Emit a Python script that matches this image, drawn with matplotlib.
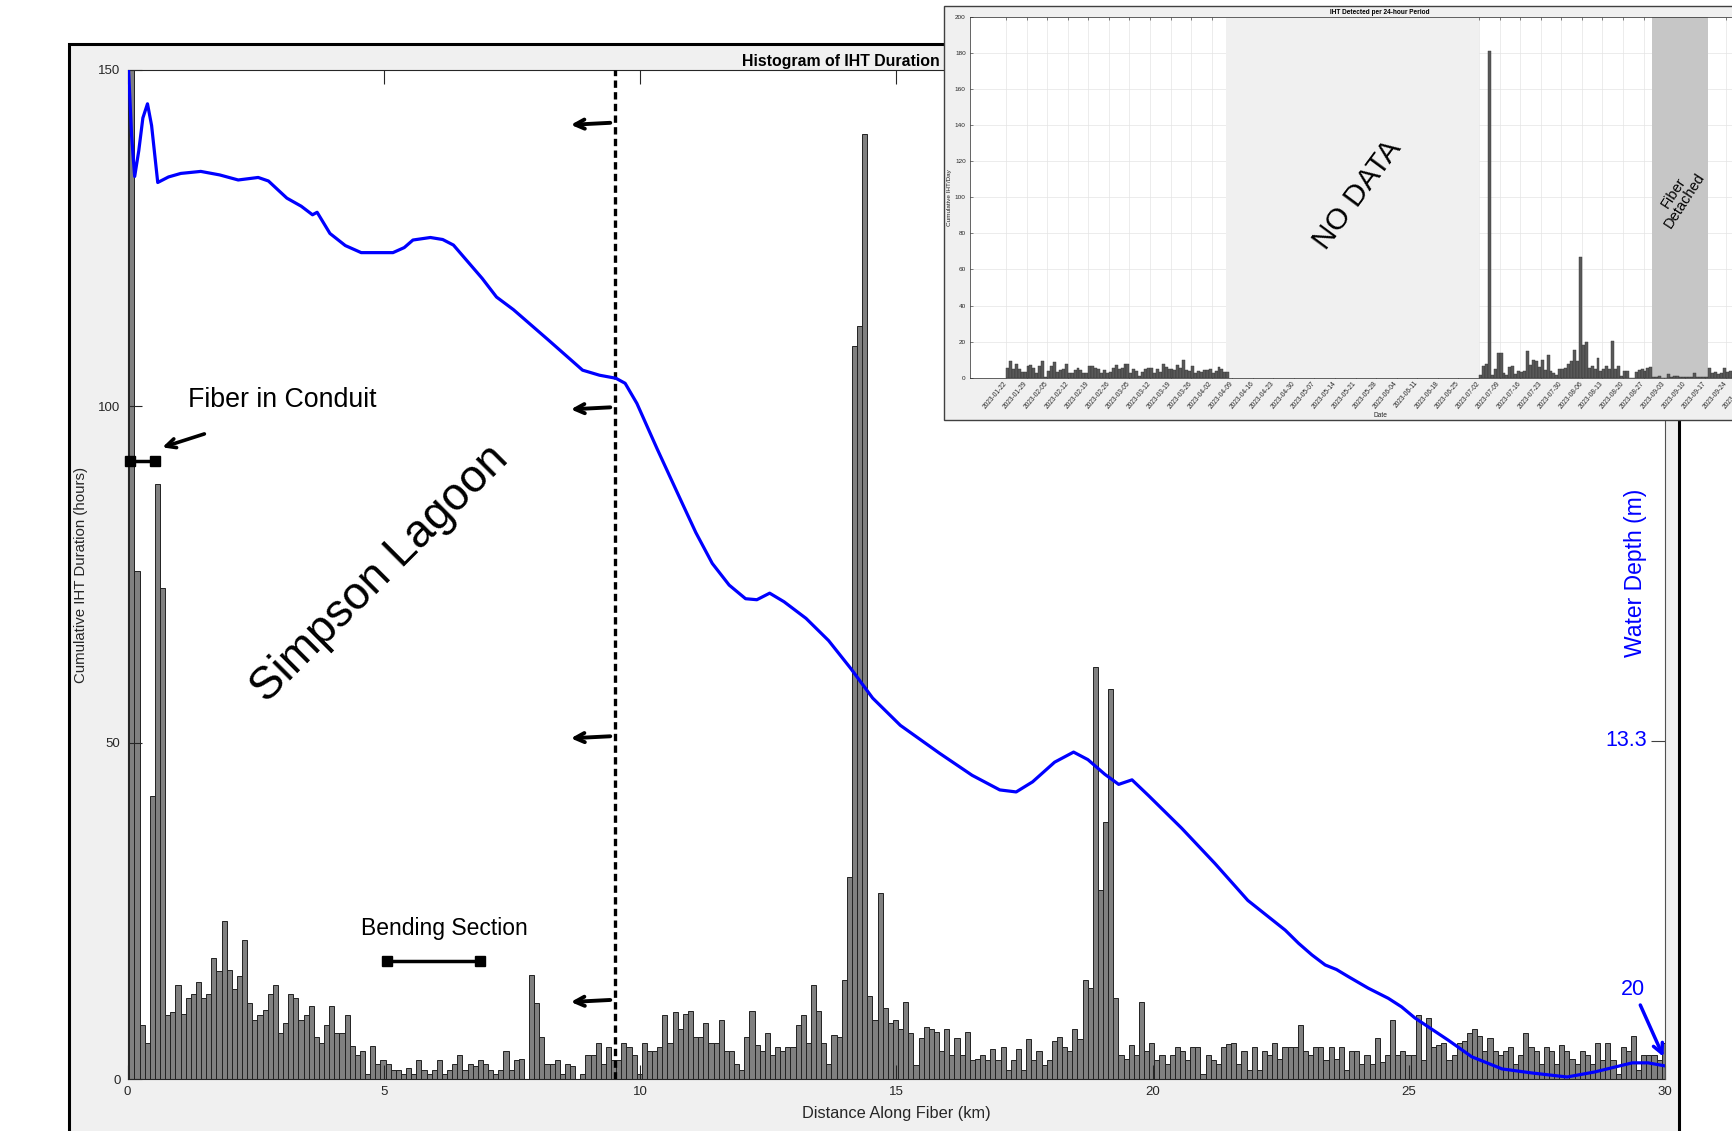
import numpy as np
import matplotlib
matplotlib.use("Agg")
import matplotlib.pyplot as plt
import matplotlib.dates as mdates
from matplotlib.patches import Rectangle

plt.rcParams['font.family'] = ['Liberation Sans', 'DejaVu Sans']

# ---------------- data ----------------
bin_width_km = 0.1
first_bin_km = 0.035
iht_hours = [
    158, 75.5, 8.1, 5.4, 42, 88.5, 73, 9.5, 9.9, 14.0,
    9.6, 12.0, 12.7, 14.4, 12.0, 12.7, 18.0, 16.0, 23.5, 16.2,
    13.4, 15.3, 20.7, 11.3, 8.8, 9.5, 10.3, 12.6, 14.0, 6.8,
    8.3, 12.7, 12.1, 8.8, 9.5, 10.8, 6.2, 5.4, 8.1, 10.8,
    6.8, 6.8, 9.5, 4.9, 3.5, 4.1, 0.8, 4.9, 2.2, 2.8,
    2.2, 1.4, 1.4, 0.8, 1.7, 0.8, 2.8, 1.3, 0.8, 1.4,
    2.8, 0.8, 1.4, 2.2, 3.5, 1.4, 2.2, 2.0, 2.8, 2.2,
    1.4, 0.8, 1.4, 4.1, 1.4, 2.8, 3.0, 0, 15.5, 11.3,
    6.2, 2.2, 2.2, 2.8, 0.8, 2.2, 1.9, 0, 0.8, 3.5,
    3.5, 5.4, 2.2, 4.8, 2.8, 2.8, 5.3, 4.8, 3.5, 0.8,
    5.4, 4.1, 4.1, 4.8, 9.5, 5.4, 10.0, 7.5, 9.7, 10.1,
    6.3, 6.2, 8.3, 5.4, 5.4, 8.8, 4.1, 4.1, 2.2, 1.4,
    6.2, 10.1, 5.0, 4.1, 6.8, 3.5, 4.7, 4.1, 4.8, 4.8,
    8.1, 9.5, 5.4, 14.0, 10.1, 5.3, 2.2, 6.5, 6.2, 14.7,
    30, 109, 112, 140.5, 12.3, 8.8, 27.7, 10.6, 8.3, 8.8,
    7.5, 11.5, 6.8, 2.1, 6.1, 7.7, 7.5, 7.0, 4.1, 7.5,
    3.5, 6.1, 3.5, 7.0, 2.8, 3.0, 3.5, 2.8, 4.4, 2.8,
    4.8, 1.4, 2.8, 4.4, 1.4, 5.9, 2.8, 4.1, 2.1, 2.8,
    5.6, 6.3, 4.8, 4.1, 7.5, 6.0, 14.7, 13.5, 61.3, 28.1,
    38.2, 58.0, 12.0, 3.5, 3.0, 5.0, 3.5, 11.5, 4.1, 5.4,
    2.8, 3.5, 2.2, 3.5, 4.8, 4.1, 2.8, 4.8, 4.8, 0.8,
    3.5, 2.8, 2.2, 4.8, 5.2, 5.4, 2.2, 4.1, 1.4, 4.8,
    1.4, 4.1, 3.5, 5.4, 3.0, 4.8, 4.8, 4.8, 8.1, 4.1,
    3.5, 4.8, 4.8, 2.8, 4.7, 3.0, 4.8, 1.4, 4.1, 4.1,
    2.2, 3.5, 2.2, 6.1, 2.5, 3.5, 8.8, 3.5, 4.1, 3.5,
    3.5, 9.5, 2.8, 9.1, 4.8, 5.0, 5.4, 2.8, 3.5, 5.4,
    5.6, 6.8, 7.5, 6.4, 4.1, 6.1, 4.1, 3.5, 4.1, 4.8,
    2.2, 3.5, 6.8, 4.8, 4.1, 2.2, 4.8, 4.1, 2.2, 5.0,
    4.1, 3.0, 2.3, 4.1, 3.5, 2.2, 5.4, 2.8, 5.4, 2.8,
    0.8, 4.8, 4.1, 6.4, 1.4, 3.5, 3.5, 3.5, 2.8, 5.4,
]

depth_km = [0.02, 0.08, 0.14, 0.22, 0.30, 0.39, 0.47, 0.59, 0.80, 1.04,
            1.43, 1.80, 2.16, 2.55, 2.75, 2.94, 3.11, 3.39, 3.61, 3.70,
            3.95, 4.25, 4.56, 5.18, 5.40, 5.57, 5.91, 6.15, 6.36, 6.92,
            7.20, 7.53, 8.21, 8.88, 9.21, 9.53, 9.71, 9.94,
            10.33, 10.77, 11.09, 11.41, 11.74, 12.06, 12.28, 12.53, 12.81, 13.24,
            13.68, 14.11, 14.54, 15.08, 15.84, 16.48, 17.02, 17.34, 17.66, 18.09,
            18.46, 18.74, 19.07, 19.34, 19.60, 19.92, 20.57, 21.22, 21.86, 22.59,
            22.85, 23.11, 23.37, 23.59, 23.82, 24.21, 24.60, 24.86, 25.12, 25.77,
            26.23, 26.82, 27.40, 28.09, 28.63, 29.36, 29.67, 30.0]
depth_m = [0.0, 1.30, 2.11, 1.60, 0.95, 0.67, 1.10, 2.23, 2.12, 2.05,
           2.01, 2.08, 2.18, 2.13, 2.20, 2.38, 2.54, 2.70, 2.87, 2.82,
           3.24, 3.48, 3.62, 3.62, 3.52, 3.37, 3.32, 3.36, 3.47, 4.13,
           4.50, 4.75, 5.35, 5.95, 6.05, 6.11, 6.21, 6.61,
           7.50, 8.47, 9.17, 9.78, 10.21, 10.48, 10.50, 10.37, 10.54, 10.87,
           11.31, 11.86, 12.45, 12.99, 13.54, 13.98, 14.27, 14.31, 14.11, 13.72,
           13.52, 13.67, 13.96, 14.16, 14.07, 14.38, 15.03, 15.73, 16.46, 17.05,
           17.31, 17.54, 17.74, 17.83, 17.97, 18.20, 18.40, 18.57, 18.79, 19.23,
           19.56, 19.80, 19.88, 19.96, 19.86, 19.68, 19.68, 19.74]

x_ticks = [0, 5, 10, 15, 20, 25, 30]
y_ticks = [0, 50, 100, 150]
depth_tick = 13.3
depth_end_label = "20"

offshore_km = 9.52
shift_arrow_levels = [142.0, 99.7, 50.8, 11.6]
conduit_km = [0.055, 0.53]
conduit_level = 91.8
bend_km = [5.07, 6.88]
bend_level = 17.6

# inset (daily counts)
winter_start = '2023-01-22'
winter_counts = [5.5, 9.2, 4.6, 7.9, 4.8, 3.3, 3.3, 6.6, 7.0, 5.2,
                 2.4, 6.6, 9.2, 0.6, 3.9, 6.6, 8.5, 3.3, 4.2, 4.8,
                 7.9, 2.4, 2.4, 4.2, 5.5, 4.2, 2.4, 2.4, 6.3, 6.3,
                 5.7, 4.8, 2.4, 4.2, 2.4, 3.3, 5.2, 7.0, 4.8, 5.2,
                 7.4, 7.9, 2.4, 4.6, 3.7, 0.9, 3.3, 4.8, 5.2, 5.2,
                 2.8, 4.8, 3.3, 7.4, 6.1, 4.8, 4.8, 4.2, 7.0, 5.5,
                 10.1, 4.2, 3.7, 6.5, 2.4, 3.7, 3.3, 4.2, 4.2, 4.6,
                 2.8, 3.9, 6.1, 4.8, 3.3, 3.3]
summer_start = '2023-07-02'
summer_counts = [1.8, 6.5, 7.9, 181, 1.5, 4.6, 13.5, 14.0, 2.4, 1.5,
                 6.1, 6.6, 2.0, 3.7, 3.0, 3.9, 14.8, 7.0, 10.1, 9.2,
                 6.1, 9.8, 4.2, 12.5, 3.9, 2.4, 1.8, 4.6, 4.8, 5.5,
                 7.9, 9.4, 15.3, 9.2, 67, 18.1, 19.9, 5.7, 6.6, 4.6,
                 10.7, 3.9, 4.8, 6.6, 4.6, 20.3, 4.8, 6.5, 0.9, 3.7,
                 3.9, 0, 0, 3.3, 4.2, 4.8, 3.9, 5.2, 6.1, 0.6,
                 0.6, 0.9, 0, 0, 2.0, 0.6, 0.9, 0.9, 0.6, 0.2,
                 0.6, 0.2, 0.2, 2.4, 0.6, 0.6, 0.6, 0.6, 5.2, 2.8,
                 3.3, 2.0, 2.4, 5.2, 3.3, 3.7]
no_data_span = ('2023-04-07', '2023-07-02')
detached_span = ('2023-08-30', '2023-09-18')
inset_yticks = list(range(0, 201, 20))

# ---------------- figure ----------------
W, H = 1732, 1131
fig = plt.figure(figsize=(W / 100, H / 100), dpi=100)
fig.patch.set_facecolor('white')

def fx(px):
    return px / W

def fy(py):
    return 1 - py / H

fig.add_artist(Rectangle((fx(68.5), -0.05), fx(1679) - fx(68.5), fy(44) + 0.05,
                         transform=fig.transFigure, facecolor='#f0f0f0',
                         edgecolor='black', lw=2.2, zorder=-5))

ax = fig.add_axes([fx(127.5), fy(1079), (1665 - 127.5) / W, (1079 - 70) / H])
ax.set_facecolor('white')
edges = first_bin_km + bin_width_km * np.arange(len(iht_hours))
ax.bar(edges, iht_hours, width=bin_width_km, align='edge', color='#808080',
       edgecolor='#222222', linewidth=0.7, zorder=1)
ax.set_xticks(x_ticks)
ax.set_yticks(y_ticks)
ax.set_xlim(0, 30)
ax.set_ylim(0, 150)
ax.tick_params(axis='both', direction='in', length=10, width=0.8, color='#262626',
               labelcolor='#262626', labelsize=9.5, pad=5)
ax.tick_params(axis='x', top=True, labeltop=False)
ax.tick_params(axis='y', right=False)
for s in ax.spines.values():
    s.set_color('#262626')
    s.set_linewidth(0.8)
ax.spines['right'].set_visible(False)

ax.set_xlabel('Distance Along Fiber (km)', fontsize=11.8, color='#262626', va='center')
ax.xaxis.set_label_coords(0.5, -0.0337)
ax.set_ylabel('Cumulative IHT Duration (hours)', fontsize=10.8, color='#262626', va='center')
ax.yaxis.set_label_coords(-0.0305, 0.5)
ax.set_title('Histogram of IHT Duration Along Fiber', fontsize=11.4, fontweight='bold',
             x=(742 - 127.5) / 1537.5, ha='left', pad=3)

ax.axvline(offshore_km, color='black', lw=2.4, ls=(0, (2.2, 1.3)), zorder=3)
for lvl in shift_arrow_levels:
    ax.annotate('', xy=(8.65, lvl - 0.15), xytext=(9.42, lvl + 0.15),
                arrowprops=dict(arrowstyle='->,head_length=0.45,head_width=0.22',
                                lw=2.8, color='black', shrinkA=0, shrinkB=0,
                                mutation_scale=15))

ax.text(4.93, 75.1, 'Simpson Lagoon', rotation=45, fontsize=33, ha='center',
        va='center', rotation_mode='anchor')
ax.text(1.18, 100.9, 'Fiber in Conduit', fontsize=19.3, ha='left', va='center')
ax.annotate('', xy=(0.68, 93.9), xytext=(1.50, 95.9),
            arrowprops=dict(arrowstyle='->,head_length=0.45,head_width=0.22', lw=2.6,
                            color='black', shrinkA=0, shrinkB=0, mutation_scale=15))
ax.plot(conduit_km, [conduit_level] * 2, color='black', lw=2.5, marker='s', ms=6.5,
        zorder=4, clip_on=False)
ax.text(6.18, 22.4, 'Bending Section', fontsize=16.5, ha='center', va='center')
ax.plot(bend_km, [bend_level] * 2, color='black', lw=2.5, marker='s', ms=6.5, zorder=4)

ax2 = ax.twinx()
ax2.set_ylim(20, 0)
ax2.plot(depth_km, depth_m, color='#0000ff', lw=2.3, solid_capstyle='round',
         solid_joinstyle='round')
ax2.set_yticks([depth_tick])
ax2.set_ylim(20, 0)
ax2.tick_params(axis='y', direction='in', length=10, width=0.8, color='#404040',
                labelright=False)
for side in ['left', 'top', 'bottom']:
    ax2.spines[side].set_visible(False)
ax2.spines['right'].set_color('#505050')
ax2.spines['right'].set_linewidth(0.8)
ax2.set_ylabel('Water Depth (m)', color='#0000ff', fontsize=16.5, va='center')
ax2.yaxis.set_label_coords(0.9805, 0.5015)
ax2.text((1647 - 127.5) / 1537.5, depth_tick, f'{depth_tick}',
         transform=ax2.get_yaxis_transform(), ha='right', va='center',
         color='#0000ff', fontsize=15.5)
ax2.annotate(depth_end_label, xy=(29.97, 19.56), xytext=(29.38, 18.22),
             ha='center', va='center', color='#0000ff', fontsize=15.5,
             arrowprops=dict(arrowstyle='->,head_length=0.5,head_width=0.25',
                             lw=2.5, color='#0000ff', shrinkA=2, shrinkB=0,
                             mutation_scale=14))

# ---------------- inset ----------------
fig.add_artist(Rectangle((fx(944), fy(420)), 1.0, (420 - 5.5) / H,
                         transform=fig.transFigure, facecolor='#f0f0f0',
                         edgecolor='#404040', lw=1.0, zorder=20))
axin = fig.add_axes([fx(970), fy(377.8), 820 / W, (377.8 - 16.6) / H])
axin.set_zorder(21)
axin.set_facecolor('white')

w_dates = mdates.date2num(np.datetime64(winter_start) + np.arange(len(winter_counts)).astype('timedelta64[D]'))
s_dates = mdates.date2num(np.datetime64(summer_start) + np.arange(len(summer_counts)).astype('timedelta64[D]'))
axin.axvspan(mdates.date2num(np.datetime64(no_data_span[0])),
             mdates.date2num(np.datetime64(no_data_span[1])),
             color='#f0f0f0', lw=0, zorder=1.5)
axin.axvspan(mdates.date2num(np.datetime64(detached_span[0])),
             mdates.date2num(np.datetime64(detached_span[1])),
             color='#c6c6c6', lw=0, zorder=1.5)
axin.bar(w_dates, winter_counts, width=1.0, align='edge', color='#595959',
         edgecolor='#333333', linewidth=0.3, zorder=2)
axin.bar(s_dates, summer_counts, width=1.0, align='edge', color='#595959',
         edgecolor='#333333', linewidth=0.3, zorder=2)

tick_dates = np.arange(np.datetime64('2023-01-22'), np.datetime64('2023-10-02'),
                       np.timedelta64(7, 'D'))
axin.set_xticks(mdates.date2num(tick_dates))
axin.set_xticklabels([str(d) for d in tick_dates], rotation=50, ha='right',
                     va='center', rotation_mode='anchor', fontsize=4.8, color='#262626')
axin.set_yticks(inset_yticks)
base = mdates.date2num(np.datetime64('2023-01-22'))
axin.set_xlim(base - 12.25, base - 12.25 + 279.1)
axin.set_ylim(0, 200)
axin.tick_params(axis='y', labelsize=4.6, labelcolor='#262626')
axin.tick_params(axis='both', direction='in', length=2.5, width=0.4, color='#262626',
                 top=True, right=True, pad=3)
axin.grid(True, color='#e4e4e4', lw=0.5)
axin.set_axisbelow(True)
for s in axin.spines.values():
    s.set_color('#262626')
    s.set_linewidth(0.5)
axin.set_title('IHT Detected per 24-hour Period', fontsize=4.7, fontweight='bold', pad=2)
axin.set_ylabel('Cumulative IHT/Day', fontsize=4.6, color='#262626', va='center')
axin.yaxis.set_label_coords(-0.0256, 0.5)
axin.set_xlabel('Date', fontsize=4.8, color='#262626', va='center')
axin.xaxis.set_label_coords(0.5, -0.103)
axin.text(0.4726, 0.5078, 'NO DATA', transform=axin.transAxes, rotation=53.5,
          fontsize=21.5, ha='center', va='center', rotation_mode='anchor', zorder=3)
axin.text(0.8646, 0.5006, 'Fiber\nDetached', transform=axin.transAxes, rotation=57,
          fontsize=10.5, ha='center', va='center', rotation_mode='anchor',
          linespacing=1.0, zorder=3)

fig.savefig('out.png', dpi=100)
